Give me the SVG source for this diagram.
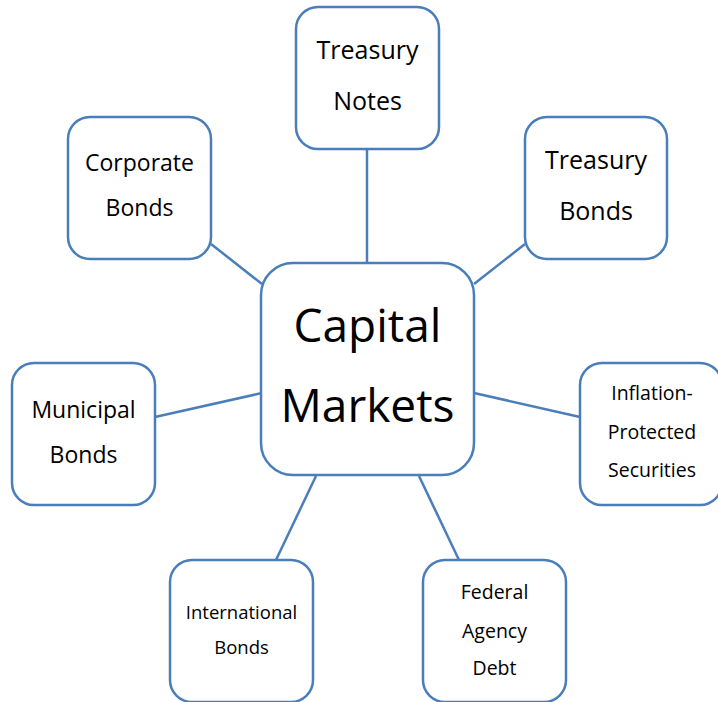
<svg xmlns="http://www.w3.org/2000/svg" width="718" height="702" viewBox="0 0 718 702">
<style>
.n{fill:#fff;stroke:#4A7EBB;stroke-width:2.5}
.c{stroke:#4A7EBB;stroke-width:2.5;fill:none}
text{font-family:"Open Sans","Noto Sans",sans-serif;fill:#000;text-anchor:middle}
</style>
<rect width="718" height="702" fill="#fff"/>
<g id="connectors">
<line class="c" x1="367" y1="149" x2="367" y2="263"/>
<line class="c" x1="525" y1="244" x2="474" y2="284"/>
<line class="c" x1="211" y1="244" x2="262" y2="284"/>
<line class="c" x1="155" y1="417" x2="262" y2="393"/>
<line class="c" x1="474" y1="393" x2="580" y2="417"/>
<line class="c" x1="276" y1="560" x2="316" y2="476"/>
<line class="c" x1="459" y1="560" x2="419" y2="476"/>
</g>
<g id="center">
<rect class="n" x="261" y="263" width="213" height="212" rx="32"/>
<text x="367.5" y="342" font-size="46">Capital</text>
<text x="367.5" y="422" font-size="46">Markets</text>
</g>
<g id="treasury-notes">
<rect class="n" x="296" y="7" width="143" height="142" rx="22"/>
<text x="367.5" y="59" font-size="25">Treasury</text>
<text x="367.5" y="110" font-size="25">Notes</text>
</g>
<g id="treasury-bonds">
<rect class="n" x="525" y="117" width="142" height="142" rx="22"/>
<text x="596" y="169" font-size="25">Treasury</text>
<text x="596" y="220" font-size="25">Bonds</text>
</g>
<g id="corporate-bonds">
<rect class="n" x="68" y="117" width="143" height="142" rx="22"/>
<text x="139.5" y="171" font-size="23">Corporate</text>
<text x="139.5" y="216" font-size="23">Bonds</text>
</g>
<g id="municipal-bonds">
<rect class="n" x="12" y="363" width="143" height="142" rx="22"/>
<text x="83.5" y="418" font-size="23">Municipal</text>
<text x="83.5" y="463" font-size="23">Bonds</text>
</g>
<g id="inflation">
<rect class="n" x="580" y="363" width="142" height="142" rx="22"/>
<text x="652" y="400" font-size="19.5">Inflation-</text>
<text x="652" y="439" font-size="19.5">Protected</text>
<text x="652" y="477" font-size="19.5">Securities</text>
</g>
<g id="international-bonds">
<rect class="n" x="170" y="560" width="143" height="142" rx="22"/>
<text x="241.5" y="619" font-size="18.5">International</text>
<text x="241.5" y="654" font-size="18.5">Bonds</text>
</g>
<g id="federal-agency-debt">
<rect class="n" x="423" y="560" width="143" height="142" rx="22"/>
<text x="494.5" y="599" font-size="19.5">Federal</text>
<text x="494.5" y="638" font-size="19.5">Agency</text>
<text x="494.5" y="675" font-size="19.5">Debt</text>
</g>
</svg>
